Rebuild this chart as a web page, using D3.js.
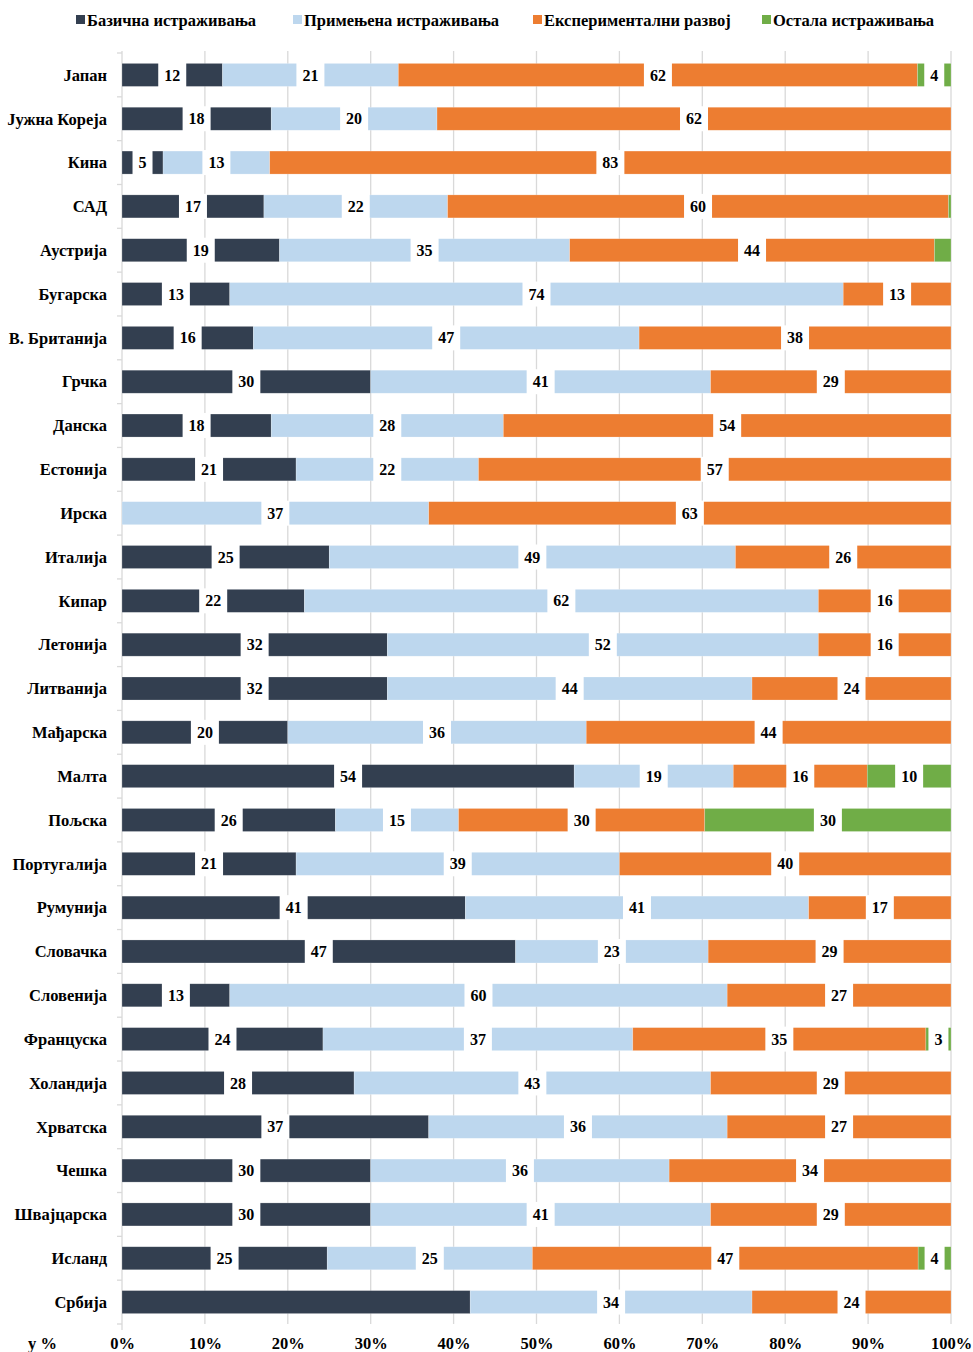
<!DOCTYPE html>
<html><head><meta charset="utf-8">
<script src="https://cdn.jsdelivr.net/npm/d3@7"></script>
<style>
html,body{margin:0;padding:0;background:#fff;}
svg text{font-family:"Liberation Serif","Times New Roman",serif;font-weight:bold;}
</style></head>
<body>
<svg id="chart" width="973" height="1352"></svg>
<script>
const categories = ["Јапан","Јужна Кореја","Кина","САД","Аустрија","Бугарска","В. Британија","Грчка","Данска","Естонија","Ирска","Италија","Кипар","Летонија","Литванија","Мађарска","Малта","Пољска","Португалија","Румунија","Словачка","Словенија","Француска","Холандија","Хрватска","Чешка","Швајцарска","Исланд","Србија"];
const basic        = [12,18,5,17,19,13,16,30,18,21,0,25,22,32,32,20,54,26,21,41,47,13,24,28,37,30,30,25,42];
const applied      = [21,20,13,22,35,74,47,41,28,22,37,49,62,52,44,36,19,15,39,41,23,60,37,43,36,36,41,25,34];
const experimental = [62,62,83,60,44,13,38,29,54,57,63,26,16,16,24,44,16,30,40,17,29,27,35,29,27,34,29,47,24];
const other        = [4,0,0,0.3,2,0,0,0,0,0,0,0,0,0,0,0,10,30,0,0,0,0,3,0,0,0,0,4,0];
const seriesNames  = ["Базична истраживања","Примењена истраживања","Експериментални развој","Остала истраживања"];
const seriesKeys   = ["basic","applied","experimental","other"];
const colors       = ["#333F50","#BDD7EE","#ED7D31","#70AD47"];
const tickValues   = [0,0.1,0.2,0.3,0.4,0.5,0.6,0.7,0.8,0.9,1];
const axisUnit     = "у %";
const hiddenLabels = [["Србија","basic"]];
const minLabel     = 3;

(function(){
const FONT = "Liberation Serif, Times New Roman, serif";
const rows = categories.map((c,i)=>({cat:c,basic:basic[i],applied:applied[i],experimental:experimental[i],other:other[i]}));

const svg = d3.select("#chart");
const pL = 122, pR = 951, pT = 53, pB = 1324;
const x = d3.scaleLinear().domain([0,1]).range([pL,pR]);
const y = d3.scaleBand().domain(categories).range([pT,pB]).paddingInner(0.475).paddingOuter(0.2375);

const stack = d3.stack().keys(seriesKeys).offset(d3.stackOffsetExpand);
const stacked = stack(rows);

// gridlines
svg.append("g").selectAll("line").data(tickValues.slice(1)).join("line")
  .attr("x1",d=>x(d)).attr("x2",d=>x(d)).attr("y1",pT-2).attr("y2",pB)
  .attr("stroke","#D9D9D9").attr("stroke-width",1.3);

// left axis line with ticks at band boundaries
svg.append("line").attr("x1",pL).attr("x2",pL).attr("y1",pT-2).attr("y2",pB+6)
  .attr("stroke","#D9D9D9").attr("stroke-width",1.3);
const bounds = d3.range(categories.length+1).map(i=>pT + i*(pB-pT)/categories.length);
svg.append("g").selectAll("line").data(bounds).join("line")
  .attr("x1",pL-5).attr("x2",pL).attr("y1",d=>d).attr("y2",d=>d)
  .attr("stroke","#D9D9D9").attr("stroke-width",1.3);

// bars
const bh = y.bandwidth();
const g = svg.append("g");
stacked.forEach((s,si)=>{
  g.append("g").selectAll("rect").data(s).join("rect")
    .attr("x",d=>x(d[0])).attr("width",d=>Math.max(0,x(d[1])-x(d[0])))
    .attr("y",d=>y(d.data.cat)).attr("height",bh)
    .attr("fill",colors[si]).attr("stroke","#ffffff").attr("stroke-opacity",0.35).attr("stroke-width",0.6);
});

// labels with white boxes
const lg = svg.append("g");
stacked.forEach((s,si)=>{
  s.forEach(d=>{
    const v = d.data[s.key];
    if (v < minLabel) return;
    if (hiddenLabels.some(h=>h[0]===d.data.cat && h[1]===s.key)) return;
    const cx = (x(d[0])+x(d[1]))/2;
    const cy = y(d.data.cat)+bh/2;
    const t = lg.append("text").attr("x",cx).attr("y",cy).attr("dy","0.35em")
      .attr("text-anchor","middle").attr("font-family",FONT).attr("font-weight","bold")
      .attr("font-size",16).attr("fill","#000").text(String(v));
    const w = t.node().getComputedTextLength();
    lg.insert("rect","text").attr("x",cx-w/2-6).attr("y",cy-bh/2-1).attr("width",w+12).attr("height",bh+2).attr("fill","#fff");
  });
});

// category labels
svg.append("g").selectAll("text").data(categories).join("text")
  .attr("x",107).attr("y",d=>y(d)+bh/2).attr("dy","0.35em").attr("text-anchor","end")
  .attr("font-family",FONT).attr("font-weight","bold")
  .attr("font-size",16.5).attr("fill","#000").text(d=>d);

// x axis labels
const xa = svg.append("g").attr("transform",`translate(0,${pB})`)
  .call(d3.axisBottom(x).tickValues(tickValues).tickFormat(d3.format(".0%")).tickSize(0).tickPadding(13));
xa.select(".domain").remove();
xa.selectAll("text").attr("font-size",16.5).attr("fill","#000").attr("font-family",FONT).attr("font-weight","bold");
svg.append("text").attr("x",28).attr("y",1349).attr("font-family",FONT).attr("font-weight","bold")
  .attr("font-size",16.5).attr("fill","#000").text(axisUnit);

// legend
const legX = [76,293,533,762];
const leg = svg.append("g");
seriesNames.forEach((n,i)=>{
  leg.append("rect").attr("x",legX[i]).attr("y",15).attr("width",9).attr("height",9).attr("fill",colors[i]);
  leg.append("text").attr("x",legX[i]+11).attr("y",20).attr("dy","0.35em").attr("font-family",FONT).attr("font-weight","bold")
    .attr("font-size",16.5).attr("fill","#000").text(n);
});
})();
</script>
</body></html>
